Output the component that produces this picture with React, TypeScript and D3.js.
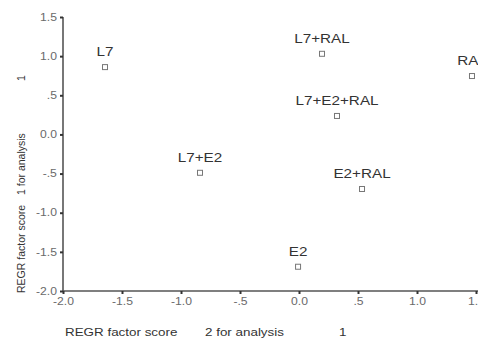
import { useEffect, useRef } from 'react';
import * as d3 from 'd3';

const labels = ['L7', 'L7+RAL', 'RAL', 'L7+E2+RAL', 'L7+E2', 'E2+RAL', 'E2'];
const score2 = [-1.644, 0.195, 1.466, 0.322, -0.839, 0.534, -0.008];
const score1 = [0.86, 1.03, 0.746, 0.236, -0.49, -0.697, -1.69];
const ticks = [-2.0, -1.5, -1.0, -0.5, 0.0, 0.5, 1.0, 1.5];
const xTitle = ['REGR factor score', '2 for analysis', '1'];
const yTitle = ['REGR factor score', '1 for analysis', '1'];

const fmt = (v: number) => {
  if (v === 0) return '0.0';
  const s = Math.abs(v) === 0.5 ? '.5' : Math.abs(v).toFixed(1);
  return (v < 0 ? '-' : '') + s;
};

export default function App() {
  const svgRef = useRef<SVGSVGElement>(null);

  useEffect(() => {
    const svg = d3.select(svgRef.current);
    if (!svg.node()) return;
    svg.selectAll('*').remove();

    const width = 478;
    const height = 338;
    const font = 'Liberation Sans, Arial, sans-serif';
    const stretch = 'scale(1.22,1)'; // the source image is a bit wider than tall

    const x = d3.scaleLinear().domain([-2, 1.5]).range([63, 476]);
    const y = d3.scaleLinear().domain([-2, 1.5]).range([291, 17]);

    svg.attr('viewBox', `0 0 ${width} ${height}`);
    const g = svg.append('g');

    // y axis
    g.append('g')
      .attr('transform', `translate(${x(-2)},0)`)
      .call(d3.axisLeft(y).tickValues(ticks).tickSize(3).tickPadding(2).tickFormat((v) => fmt(+v)))
      .call((sel) => sel.select('.domain').attr('stroke', '#555').attr('stroke-width', 1.6).attr('d', `M0,${y(1.5)}V${y(-2)}`))
      .call((sel) => sel.selectAll('.tick line').attr('stroke', '#333').attr('stroke-width', 2))
      .call((sel) =>
        sel
          .selectAll('text')
          .attr('font-family', font)
          .attr('font-size', 10)
          .attr('fill', '#6a6a6a')
          .attr('transform', stretch),
      );

    // x axis
    g.append('g')
      .attr('transform', `translate(0,${y(-2)})`)
      .call(d3.axisBottom(x).tickValues(ticks).tickSize(3).tickPadding(4).tickFormat((v) => fmt(+v)))
      .call((sel) => sel.select('.domain').attr('stroke', '#555').attr('stroke-width', 1.6).attr('d', `M${x(-2)},0H${width}`))
      .call((sel) => sel.selectAll('.tick line').attr('stroke', '#333').attr('stroke-width', 2))
      .call((sel) =>
        sel
          .selectAll('text')
          .attr('font-family', font)
          .attr('font-size', 10)
          .attr('fill', '#6a6a6a')
          .attr('transform', stretch),
      );

    const pts = labels.map((l, i) => ({ label: l, sx: score2[i], sy: score1[i] }));

    g.selectAll('rect.pt')
      .data(pts)
      .join('rect')
      .attr('class', 'pt')
      .attr('x', (d) => x(d.sx) - 2.5)
      .attr('y', (d) => y(d.sy) - 2.5)
      .attr('width', 5)
      .attr('height', 5)
      .attr('fill', '#fff')
      .attr('stroke', '#777')
      .attr('stroke-width', 1);

    g.selectAll('g.lbl')
      .data(pts)
      .join('g')
      .attr('class', 'lbl')
      .attr('transform', (d) => `translate(${x(d.sx)},${y(d.sy) - 11}) ${stretch}`)
      .append('text')
      .attr('text-anchor', 'middle')
      .attr('font-family', font)
      .attr('font-size', 12.5)
      .attr('fill', '#333')
      .text((d) => d.label);

    // x title, pieces spaced as in the source
    const xt = g
      .append('text')
      .attr('transform', `translate(65,336) ${stretch}`)
      .attr('font-family', font)
      .attr('font-size', 11)
      .attr('fill', '#333');
    const xOff = [0, 140, 274];
    xt.selectAll('tspan')
      .data(xTitle)
      .join('tspan')
      .attr('x', (_, i) => xOff[i] / 1.22)
      .text((d) => d);

    // y title
    const yt = g
      .append('text')
      .attr('transform', 'translate(25,293) rotate(-90)')
      .attr('font-family', font)
      .attr('font-size', 10.5)
      .attr('fill', '#333');
    const yOff = [0, 98, 212];
    yt.selectAll('tspan')
      .data(yTitle)
      .join('tspan')
      .attr('x', (_, i) => yOff[i])
      .text((d) => d);
  }, []);

  return (
    <svg
      ref={svgRef}
      width={478}
      height={338}
      style={{ position: 'absolute', left: 0, top: 0, background: '#fff' }}
    />
  );
}
